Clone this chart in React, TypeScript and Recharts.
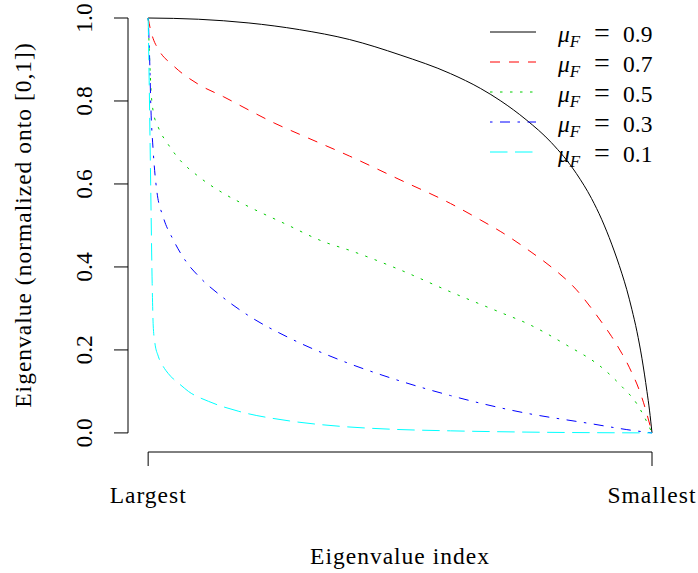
import React from 'react'
import {
  LineChart,
  Line,
  XAxis,
  YAxis,
  Legend,
  ReferenceLine,
} from 'recharts'

// Eigenvalue index runs from the largest (0) to the smallest (100)
const idx09 = [0, 10, 20, 30, 40, 50, 60, 66, 70, 75, 80, 85, 88, 90, 92, 94, 95, 96, 97, 98, 99, 99.5, 100]
const val09 = [1.0, 0.997, 0.988, 0.972, 0.948, 0.911, 0.866, 0.83, 0.8, 0.755, 0.7, 0.625, 0.565, 0.515, 0.455, 0.385, 0.345, 0.298, 0.245, 0.18, 0.1, 0.055, 0]

const idx07 = [0, 0.5, 1, 2, 5, 10, 15, 20, 25, 30, 40, 50, 60, 66, 70, 76, 80, 85, 88, 90, 92, 94, 95, 96, 97, 98, 99, 100]
const val07 = [1.0, 0.97, 0.95, 0.925, 0.885, 0.84, 0.81, 0.778, 0.747, 0.72, 0.667, 0.61, 0.553, 0.513, 0.485, 0.436, 0.4, 0.345, 0.3, 0.267, 0.232, 0.192, 0.17, 0.145, 0.118, 0.085, 0.045, 0]

const idx05 = [0, 0.3, 0.6, 1, 2, 4, 6, 10, 15, 20, 27, 35, 40, 50, 60, 70, 75, 83, 90, 94, 97, 98.5, 100]
const val05 = [1.0, 0.9, 0.82, 0.775, 0.737, 0.695, 0.662, 0.618, 0.577, 0.545, 0.505, 0.46, 0.44, 0.393, 0.34, 0.29, 0.265, 0.212, 0.158, 0.112, 0.07, 0.038, 0]

const idx03 = [0, 0.3, 0.5, 1, 1.7, 3, 5, 7.7, 10, 15, 20, 28, 38, 48, 60, 74, 88, 95, 100]
const val03 = [1.0, 0.9, 0.8, 0.68, 0.585, 0.52, 0.465, 0.41, 0.378, 0.325, 0.282, 0.229, 0.176, 0.133, 0.09, 0.05, 0.022, 0.008, 0]

const idx01 = [0, 0.2, 0.5, 0.8, 1, 1.3, 2, 3, 4, 5, 6.5, 8, 12, 18, 28, 38, 48, 60, 75, 100]
const val01 = [1.0, 0.85, 0.6, 0.36, 0.26, 0.22, 0.185, 0.16, 0.143, 0.13, 0.115, 0.1, 0.076, 0.052, 0.029, 0.016, 0.009, 0.005, 0.002, 0]

const muValues = ['0.9', '0.7', '0.5', '0.3', '0.1']
const xTicks = [0, 100]
const xTickLabels = ['Largest', 'Smallest']
const yTicks = [0, 0.2, 0.4, 0.6, 0.8, 1.0]

const toPoints = (idx: number[], vals: number[]) => idx.map((t, i) => ({ t, v: vals[i] }))

const series = [
  { mu: muValues[0], data: toPoints(idx09, val09), color: '#000000', dash: undefined },
  { mu: muValues[1], data: toPoints(idx07, val07), color: '#ff0000', dash: '10 9' },
  { mu: muValues[2], data: toPoints(idx05, val05), color: '#00cd00', dash: '2.5 7.5' },
  { mu: muValues[3], data: toPoints(idx03, val03), color: '#0000ff', dash: '2.5 7.5 10 7.5' },
  { mu: muValues[4], data: toPoints(idx01, val01), color: '#00ffff', dash: '17.5 7.5' },
]

const FONT = '"Liberation Serif", "Times New Roman", serif'
const FONT_SIZE = 23.5
// the R axes sit a little outside the data range, so the domains reach past it
const X_MIN = -4
const Y_MIN = -0.046

const XTick = (props: any) => {
  const { x, y, payload } = props
  const label = xTickLabels[xTicks.indexOf(payload.value)]
  return (
    <text x={x} y={y + 37} textAnchor="middle" fontFamily={FONT} fontSize={FONT_SIZE} letterSpacing={1} fill="#000">
      {label}
    </text>
  )
}

const YTick = (props: any) => {
  const { x, y, payload } = props
  const bx = x - 22
  return (
    <text
      x={bx}
      y={y}
      transform={`rotate(-90, ${bx}, ${y})`}
      textAnchor="middle"
      fontFamily={FONT}
      fontSize={FONT_SIZE}
      fill="#000"
    >
      {Number(payload.value).toFixed(1)}
    </text>
  )
}

const LegendBox = () => (
  <svg width={210} height={160}>
    {series.map((s, i) => {
      const ly = 22 + i * 30
      return (
        <g key={s.mu}>
          <line x1={10} x2={56} y1={ly} y2={ly} stroke={s.color} strokeWidth={1} strokeDasharray={s.dash} />
          <text x={78} y={ly + 10} fontFamily={FONT} fontSize={FONT_SIZE} fill="#000">
            <tspan fontStyle="italic">μ</tspan>
            <tspan fontStyle="italic" fontSize={17} dy={5}>F</tspan>
            <tspan x={114} dy={-5} fontSize={28}>=</tspan>
            <tspan x={143}>{s.mu}</tspan>
          </text>
        </g>
      )
    })}
  </svg>
)

export default function App() {
  return (
    <div style={{ position: 'absolute', left: 0, top: 0, width: 698, height: 573, background: '#fff' }}>
      <LineChart width={698} height={573} margin={{ top: 18, right: 46, left: 0, bottom: 21 }}>
        <XAxis
          dataKey="t"
          type="number"
          domain={[X_MIN, 100]}
          ticks={xTicks}
          axisLine={false}
          tickLine={{ stroke: '#000' }}
          tickSize={14}
          tickMargin={0}
          height={100}
          tick={<XTick />}
          label={{
            content: (p: any) => (
              <text
                x={p.viewBox.x + 272}
                y={p.viewBox.y + 112}
                textAnchor="middle"
                fontFamily={FONT}
                fontSize={FONT_SIZE}
                letterSpacing={1}
                fill="#000"
              >
                Eigenvalue index
              </text>
            ),
          }}
        />
        <YAxis
          type="number"
          domain={[Y_MIN, 1]}
          ticks={yTicks}
          axisLine={false}
          tickLine={{ stroke: '#000' }}
          tickSize={14}
          tickMargin={0}
          width={128}
          tick={<YTick />}
          label={{
            content: (p: any) => {
              const lx = p.viewBox.x + 31
              const ly = p.viewBox.y + 207
              return (
                <text
                  x={lx}
                  y={ly}
                  transform={`rotate(-90, ${lx}, ${ly})`}
                  textAnchor="middle"
                  fontFamily={FONT}
                  fontSize={FONT_SIZE}
                  letterSpacing={1}
                  fill="#000"
                >
                  Eigenvalue (normalized onto [0,1])
                </text>
              )
            },
          }}
        />
        {/* axis lines that only span the tick range, like base R */}
        <ReferenceLine segment={[{ x: X_MIN, y: 0 }, { x: X_MIN, y: 1 }]} stroke="#000" strokeWidth={1} />
        <ReferenceLine segment={[{ x: 0, y: Y_MIN }, { x: 100, y: Y_MIN }]} stroke="#000" strokeWidth={1} />
        <Legend
          layout="vertical"
          align="center"
          verticalAlign="middle"
          content={<LegendBox />}
          wrapperStyle={{ left: 480, top: 10, width: 210, height: 160 }}
        />
        {series.map((s) => (
          <Line
            key={s.mu}
            data={s.data}
            dataKey="v"
            name={s.mu}
            type="monotone"
            stroke={s.color}
            strokeWidth={1}
            strokeDasharray={s.dash}
            dot={false}
            activeDot={false}
            isAnimationActive={false}
          />
        ))}
      </LineChart>
    </div>
  )
}
